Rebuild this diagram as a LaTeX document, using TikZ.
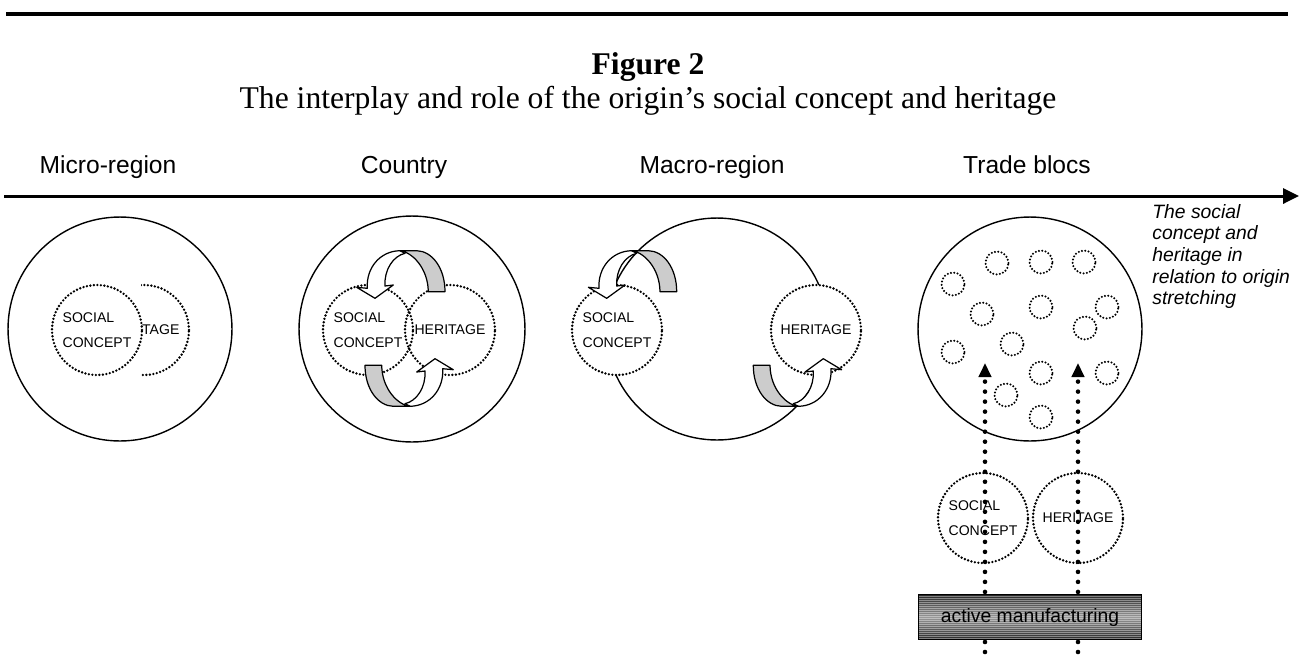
\documentclass[tikz,border=0pt]{standalone}
\usepackage{fontspec}
\setmainfont{Liberation Sans}
\newfontfamily\titlefont{Liberation Serif}
\usetikzlibrary{arrows.meta}

\tikzset{
  region/.style={draw, circle, line width=0.8pt, inner sep=0pt},
  idea/.style={draw, circle, line width=1.5pt, line cap=round, dash pattern=on 0pt off 2pt,
    minimum size=1.8cm, inner sep=0.5pt, align=left, font=\fontsize{8}{14}\selectfont},
  speck/.style={draw, circle, line width=1.3pt, line cap=round, dash pattern=on 0pt off 1.9pt,
    minimum size=0.46cm, inner sep=0pt},
  scalelabel/.style={anchor=base, font=\fontsize{14}{16}\selectfont},
  pull/.style={line width=2.6pt, line cap=round, dash pattern=on 0pt off 5.7pt,
    -{Triangle[length=8pt,width=7pt]}},
  mfgbar/.style={draw, line width=0.6pt, minimum width=4.46cm, minimum height=0.9cm, inner sep=0pt,
    top color=black!85, bottom color=black!85, middle color=black!40,
    font=\fontsize{11}{13}\selectfont,
    path picture={
      \foreach \k in {1,...,22}
        \draw[white, opacity=0.4, line width=0.35pt]
          ([yshift=-\k*0.04cm]path picture bounding box.north west) --
          ([yshift=-\k*0.04cm]path picture bounding box.north east);
    }},
  twist/.pic={
    % front of the band, ending in the head
    \filldraw[fill=white, line width=0.7pt, line join=round]
      (-37.7,-40.7) .. controls (-39,-61) and (-25,-78) .. (-5,-78.3)
      -- (0,-75.7) .. controls (-12,-73) and (-21,-59) .. (-20,-43)
      -- (-11.7,-44) -- (-30,-30.7) -- (-48.3,-41.7) -- cycle;
    % back of the band
    \filldraw[fill=gray!40, line width=0.7pt, line join=round]
      (-5,-78.3) -- (11.7,-78.3) .. controls (27,-78) and (40,-61) .. (40,-37.3)
      -- (23.3,-37.3) .. controls (23,-61) and (7,-77) .. cycle;
  }
}

\begin{document}
\begin{tikzpicture}[x=0.02cm, y=-0.02cm]
  \useasboundingbox (0,0) rectangle (1303,654);

  % heading
  \coordinate (ruleL) at (6,14);
  \coordinate (ruleR) at (1288,14);
  \draw[line width=2.6pt] (ruleL) -- (ruleR);
  \node[anchor=base, font=\titlefont\bfseries\fontsize{18}{21}\selectfont] (fig) at (648,74) {Figure 2};
  \node[anchor=base, font=\titlefont\fontsize{18}{21}\selectfont] (sub) at (648,108)
    {The interplay and role of the origin’s social concept and heritage};

  % scale
  \node[scalelabel] (lmicro) at (108,173) {Micro-region};
  \node[scalelabel] (lcountry) at (404,173) {Country};
  \node[scalelabel] (lmacro) at (712,173) {Macro-region};
  \node[scalelabel] (ltrade) at (1027,173) {Trade blocs};
  \coordinate (axisL) at (4,196);
  \coordinate (axisR) at (1299,196);
  \draw[line width=1.7pt, -{Triangle[length=9pt,width=8.5pt]}] (axisL) -- (axisR);
  \node[anchor=north west, inner sep=0pt, align=left, font=\itshape\fontsize{11}{12.3}\selectfont]
    (note) at (1152,204) {The social\\concept and\\heritage in\\relation to origin\\stretching};

  % micro-region
  \node[region, minimum size=4.48cm] (micro) at (120,329) {};
  \begin{scope}
    \clip (141,270) rectangle (200,390);
    \node[idea] (her1) at (144,330) {HERITAGE};
  \end{scope}
  \node[idea] (soc1) at (97,330) {SOCIAL\\CONCEPT};

  % country
  \node[region, minimum size=4.52cm] (country) at (412,329) {};
  \node[idea] (soc2) at (368,330) {SOCIAL\\CONCEPT};
  \node[idea] (her2) at (450,330) {HERITAGE};
  \pic at (405,329) {twist};
  \pic[rotate=180] at (405,328) {twist};

  % macro-region
  \node[region, minimum size=4.44cm] (macro) at (717,329) {};
  \node[idea, fill=white] (soc3) at (617,330) {SOCIAL\\CONCEPT};
  \node[idea, fill=white] (her3) at (816,330) {HERITAGE};
  \pic at (636.7,329) {twist};
  \pic[rotate=180] at (793.3,328) {twist};

  % trade blocs
  \node[region, minimum size=4.48cm] (trade) at (1030,329) {};
  \foreach \x/\y [count=\i] in {997/263, 1041/262, 1084/262, 953/284, 982/314, 1041/307,
      1107/307, 1085/328, 1012/344, 953/352, 1041/373, 1107/373, 1006/395, 1041/417}
    \node[speck] (s\i) at (\x,\y) {};
  \node[idea] (soc4) at (983,518) {SOCIAL\\CONCEPT};
  \node[idea] (her4) at (1078,518) {HERITAGE};
  \coordinate (foot1) at (985,652);
  \coordinate (tip1) at (985,363);
  \coordinate (foot2) at (1078,652);
  \coordinate (tip2) at (1078,363);
  \draw[pull] (foot1) -- (tip1);
  \draw[pull] (foot2) -- (tip2);
  \node[mfgbar] (mfg) at (1030,617) {active manufacturing};
\end{tikzpicture}
\end{document}
